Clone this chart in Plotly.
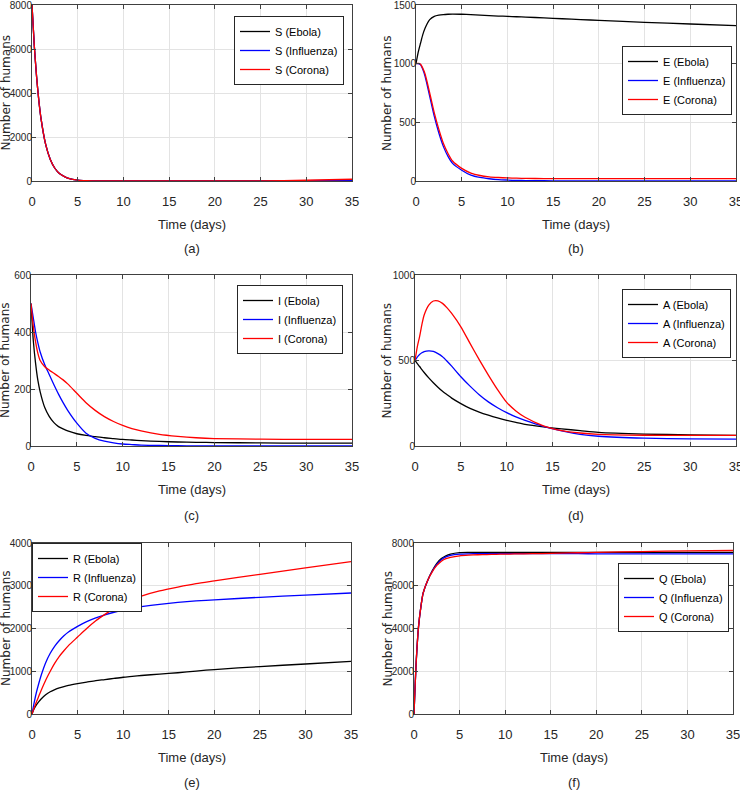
import plotly.graph_objects as go

# ---- data ----
T = [0, 0.25, 0.5, 0.75, 1, 1.5, 2, 2.5, 3, 3.5, 4, 5, 6, 7, 8, 9, 10, 11, 12, 14, 16, 18, 20, 25, 30, 35]

S_ebola = [8000, 6150, 4750, 3650, 2800, 1650, 980, 580, 340, 210, 120, 40, 15, 6, 3, 2, 1, 1, 1, 1, 1, 1, 1, 1, 1, 1]
S_influenza = [8000, 6150, 4750, 3650, 2800, 1650, 980, 580, 340, 210, 120, 40, 15, 6, 3, 2, 1, 1, 1, 1, 1, 1, 1, 2, 12, 30]
S_corona = [8000, 6150, 4750, 3650, 2800, 1650, 980, 580, 340, 210, 120, 40, 15, 6, 3, 2, 1, 1, 1, 1, 1, 1, 2, 6, 35, 80]

E_ebola = [1000, 1100, 1176, 1250, 1304, 1375, 1403, 1413, 1418, 1421, 1423, 1421, 1418, 1414, 1410, 1406, 1403, 1400, 1397, 1390, 1383, 1376, 1369, 1352, 1338, 1324]
E_influenza = [1000, 1000, 990, 950, 890, 722, 551, 409, 293, 210, 150, 92, 50, 30, 19, 12, 8, 5, 4, 2, 1, 1, 1, 1, 1, 1]
E_corona = [1000, 1002, 995, 960, 910, 750, 580, 440, 320, 235, 170, 108, 68, 47, 36, 30, 26, 24, 22, 21, 20, 20, 20, 20, 20, 20]

I_ebola = [500, 370, 290, 230, 190, 135, 103, 82, 68, 60, 53, 43, 37, 33, 29, 26, 23, 21, 19, 16, 14, 13, 12, 11, 10, 10]
I_influenza = [500, 450, 400, 362, 330, 285, 250, 215, 182, 152, 125, 80, 45, 27, 17, 11, 7, 5, 3, 2, 1, 0, 0, 0, 0, 0]
I_corona = [500, 420, 365, 325, 300, 278, 266, 255, 244, 232, 218, 185, 152, 125, 103, 86, 72, 61, 53, 41, 34, 29, 26, 24, 23, 23]

A_ebola = [500, 482, 465, 447, 430, 398, 370, 344, 320, 300, 280, 248, 220, 198, 180, 164, 150, 138, 127, 112, 100, 90, 80, 70, 65, 62]
A_influenza = [500, 520, 535, 545, 552, 556, 553, 540, 522, 496, 467, 405, 350, 300, 258, 224, 195, 170, 150, 115, 88, 68, 57, 46, 42, 40]
A_corona = [500, 580, 640, 710, 766, 824, 848, 849, 834, 808, 775, 697, 600, 505, 415, 330, 255, 205, 168, 118, 90, 76, 68, 63, 62, 62]

R_ebola = [0, 130, 220, 290, 350, 450, 520, 570, 610, 642, 670, 710, 745, 780, 805, 833, 860, 880, 900, 935, 965, 1005, 1040, 1110, 1170, 1230]
R_influenza = [0, 280, 520, 720, 900, 1200, 1420, 1590, 1720, 1830, 1920, 2050, 2160, 2250, 2320, 2380, 2430, 2475, 2510, 2565, 2610, 2645, 2670, 2730, 2780, 2830]
R_corona = [0, 150, 290, 420, 550, 790, 1000, 1190, 1350, 1480, 1600, 1800, 2000, 2180, 2330, 2470, 2584, 2680, 2760, 2880, 2970, 3050, 3113, 3268, 3416, 3564]

Q_ebola = [0, 2500, 4100, 5000, 5650, 6250, 6700, 7050, 7270, 7400, 7480, 7550, 7560, 7560, 7560, 7560, 7560, 7560, 7560, 7560, 7560, 7560, 7560, 7560, 7560, 7560]
Q_influenza = [0, 2500, 4100, 5000, 5650, 6250, 6680, 7000, 7220, 7350, 7420, 7480, 7495, 7500, 7500, 7500, 7500, 7500, 7500, 7500, 7500, 7500, 7495, 7490, 7490, 7490]
Q_corona = [0, 2500, 4100, 5000, 5650, 6250, 6650, 6950, 7150, 7270, 7330, 7400, 7430, 7450, 7460, 7470, 7480, 7487, 7495, 7505, 7525, 7545, 7560, 7600, 7630, 7650]

DISEASES = ["Ebola", "Influenza", "Corona"]
COLORS = ["#000000", "#0000ff", "#ff0000"]
X_TICKS = [0, 5, 10, 15, 20, 25, 30, 35]

panels = [
    ("S", [S_ebola, S_influenza, S_corona], 8000, 2000, "(a)"),
    ("E", [E_ebola, E_influenza, E_corona], 1500, 500, "(b)"),
    ("I", [I_ebola, I_influenza, I_corona], 600, 200, "(c)"),
    ("A", [A_ebola, A_influenza, A_corona], 1000, 500, "(d)"),
    ("R", [R_ebola, R_influenza, R_corona], 4000, 1000, "(e)"),
    ("Q", [Q_ebola, Q_influenza, Q_corona], 8000, 2000, "(f)"),
]

# ---- layout geometry (pixels) ----
W, H = 740, 791
plot_px = [  # left, right, top, bottom
    (32, 352, 5, 181), (416, 736, 5, 181),
    (31, 352, 275, 446), (415, 736, 275, 446),
    (32, 351, 543, 714), (414, 733, 543, 714),
]
legend_px = [  # x, y, xanchor
    (344, 16, "right"), (732, 46, "right"),
    (343, 285, "right"), (731, 289, "right"),
    (32, 543, "left"), (729, 563, "right"),
]
xlabel_y = [225, 225, 489, 489, 757, 757]
tag_y = [248, 248, 515, 515, 782, 782]
ytitle_x = [5.5, 387, 5.5, 387, 5.5, 387]

FONT = "Liberation Sans, Arial, sans-serif"
YFONT = "DejaVu Sans, Liberation Sans, sans-serif"

fig = go.Figure()
layout = dict(template="none", width=W, height=H,
              margin=dict(l=0, r=0, t=0, b=0, autoexpand=False),
              paper_bgcolor="white", plot_bgcolor="white", annotations=[])

for k, (var, series, ymax, ydt, tag) in enumerate(panels):
    n = k + 1
    sfx = "" if n == 1 else str(n)
    lg = "legend" if n == 1 else f"legend{n}"
    for name, vals, col in zip(DISEASES, series, COLORS):
        fig.add_trace(go.Scatter(
            x=T, y=vals, mode="lines", name=f"{var} ({name})",
            line=dict(color=col, width=1.3, shape="spline", smoothing=0.7),
            xaxis=f"x{sfx}", yaxis=f"y{sfx}", legend=lg))
    l, r, t, b = plot_px[k]
    axcommon = dict(showline=True, linecolor="#404040", linewidth=1, mirror="ticks",
                    ticks="inside", ticklen=4, tickcolor="#404040", automargin=False,
                    ticklabeloverflow="allow",
                    showgrid=True, gridcolor="#e3e3e3", gridwidth=1, zeroline=False)
    layout[f"xaxis{sfx}"] = dict(axcommon, domain=[l / W, r / W], range=[0, 35],
                                 tickvals=X_TICKS, anchor=f"y{sfx}", ticklabelstandoff=8,
                                 tickfont=dict(family=FONT, size=13, color="#262626"))
    layout[f"yaxis{sfx}"] = dict(axcommon, domain=[1 - b / H, 1 - t / H], range=[0, ymax],
                                 dtick=ydt, tick0=0, anchor=f"x{sfx}", ticklabelstandoff=-3,
                                 tickfont=dict(family=FONT, size=10, color="#262626"))
    lx, ly, la = legend_px[k]
    layout[lg] = dict(x=lx / W, y=1 - ly / H, xanchor=la, yanchor="top",
                      xref="paper", yref="paper",
                      bgcolor="white", bordercolor="#262626", borderwidth=1,
                      font=dict(family=FONT, size=11, color="#000000"),
                      itemwidth=30, tracegroupgap=0)
    cx = (l + r) / 2
    layout["annotations"] += [
        dict(text="Time (days)", x=cx / W, y=1 - xlabel_y[k] / H, xref="paper", yref="paper",
             showarrow=False, xanchor="center", yanchor="middle",
             font=dict(family=FONT, size=13, color="#262626")),
        dict(text=tag, x=cx / W, y=1 - tag_y[k] / H, xref="paper", yref="paper",
             showarrow=False, xanchor="center", yanchor="middle",
             font=dict(family=FONT, size=13, color="#262626")),
        dict(text="Number of humans", x=ytitle_x[k] / W, y=1 - ((t + b) / 2) / H,
             xref="paper", yref="paper", showarrow=False, textangle=-90,
             xanchor="center", yanchor="middle",
             font=dict(family=YFONT, size=12, color="#262626")),
    ]

fig.update_layout(**layout)
fig.write_html("out.html", config={"displayModeBar": False},
               post_script="document.body.style.margin='0px';")
